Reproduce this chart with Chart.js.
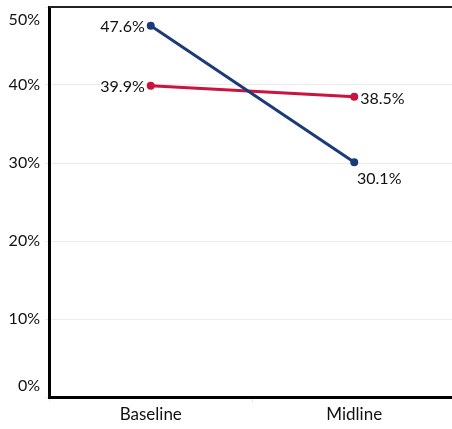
<!DOCTYPE html>
<html>
<head>
<meta charset="utf-8">
<script src="https://cdn.jsdelivr.net/npm/chart.js@4/dist/chart.umd.min.js"></script>
<style>
  html, body { margin: 0; padding: 0; background: #fff; overflow: hidden; }
  #wrap { width: 452px; height: 429px; overflow: hidden; }
</style>
</head>
<body>
<div id="wrap"><canvas id="lineChart" width="463" height="429"></canvas></div>
<script>
var categories = ["Baseline", "Midline"];
var seriesBlue = [47.6, 30.1];
var seriesRed = [39.9, 38.5];
var yTicks = [0, 10, 20, 30, 40, 50];

var FONT = "Lato, 'Open Sans', sans-serif";

// value labels beside each point, and the y tick labels kept inside the frame
var labelPlugin = {
    id: 'labelPlugin',
    afterDraw: function (chart) {
        var ctx = chart.ctx;
        var area = chart.chartArea;
        var y = chart.scales.y;
        ctx.save();
        ctx.font = '16px ' + FONT;
        ctx.fillStyle = '#111';
        ctx.textAlign = 'right';
        ctx.textBaseline = 'middle';
        yTicks.forEach(function (v) {
            var py = y.getPixelForValue(v);
            py = Math.max(area.top + 13, Math.min(area.bottom - 11, py));
            ctx.fillText(v + '%', 40, py);
        });

        // frame: top edge and the bottom axis carried to the canvas edge
        ctx.strokeStyle = '#222';
        ctx.lineWidth = 2;
        ctx.beginPath();
        ctx.moveTo(area.left, area.top);
        ctx.lineTo(chart.width, area.top);
        ctx.stroke();
        ctx.strokeStyle = '#000';
        ctx.lineWidth = 3;
        ctx.beginPath();
        ctx.moveTo(area.right - 2, area.bottom);
        ctx.lineTo(chart.width, area.bottom);
        ctx.stroke();

        chart.data.datasets.forEach(function (ds, i) {
            var pts = chart.getDatasetMeta(i).data;
            pts.forEach(function (p, j) {
                var txt = ds.data[j].toFixed(1) + '%';
                var pos = ds.labelPos[j];
                if (pos === 'left') {
                    ctx.textAlign = 'right';
                    ctx.fillText(txt, p.x - 6, p.y + 1);
                } else if (pos === 'right') {
                    ctx.textAlign = 'left';
                    ctx.fillText(txt, p.x + 6, p.y + 2);
                } else {
                    ctx.textAlign = 'center';
                    ctx.fillText(txt, p.x + 25, p.y + 17);
                }
            });
        });
        ctx.restore();
    }
};

var lineData = {
    labels: categories,
    datasets: [
        {
            label: "Blue",
            data: seriesBlue,
            borderColor: "#1b3a78",
            backgroundColor: "#1b3a78",
            pointBackgroundColor: "#1b3a78",
            borderWidth: 3,
            pointRadius: 2.5,
            labelPos: ['left', 'below']
        },
        {
            label: "Red",
            data: seriesRed,
            borderColor: "#c8143f",
            backgroundColor: "#c8143f",
            pointBackgroundColor: "#c8143f",
            borderWidth: 3,
            pointRadius: 2.5,
            labelPos: ['left', 'right']
        }
    ]
};

var lineOptions = {
    responsive: false,
    animation: false,
    layout: { padding: { top: 5, right: 0, left: 0, bottom: 0 } },
    plugins: {
        legend: { display: false },
        tooltip: { enabled: false }
    },
    scales: {
        x: {
            offset: true,
            border: { display: true, color: '#000', width: 3 },
            grid: { offset: true, drawOnChartArea: false, color: '#e8e8e8', tickLength: 5 },
            ticks: { color: '#111', font: { family: FONT, size: 17 }, padding: 2 },
            afterFit: function (s) { s.height = 32; }
        },
        y: {
            min: 0,
            max: 50,
            border: { display: true, color: '#000', width: 3 },
            grid: { color: '#ececec', tickLength: 4 },
            ticks: { display: false, stepSize: 10 },
            afterFit: function (s) { s.width = 49; }
        }
    }
};

var ctx = document.getElementById("lineChart").getContext("2d");
new Chart(ctx, { type: 'line', data: lineData, options: lineOptions, plugins: [labelPlugin] });
</script>
</body>
</html>
